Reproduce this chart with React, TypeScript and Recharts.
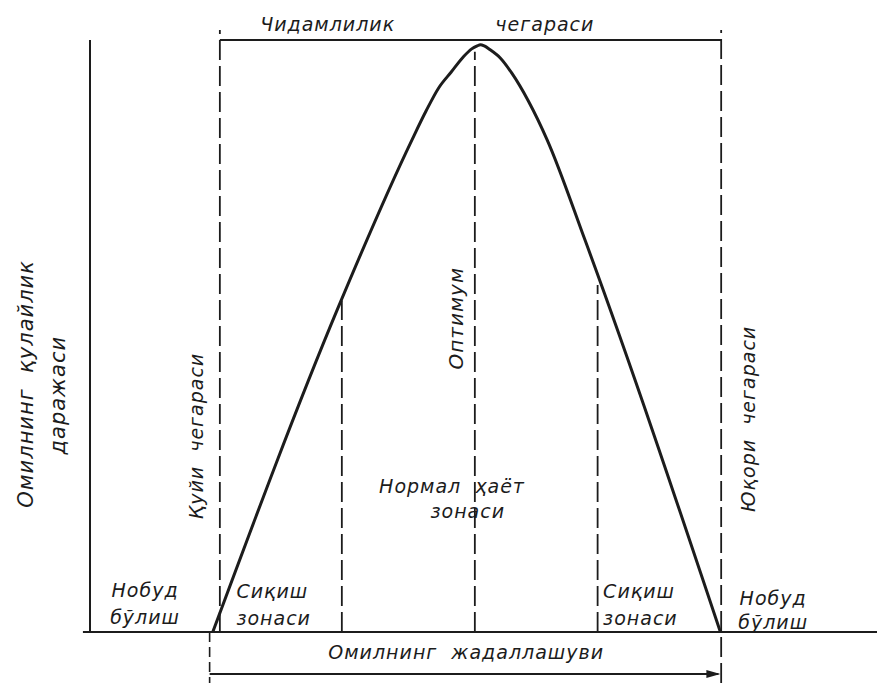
import React from 'react';
import { ComposedChart, Line, XAxis, YAxis, ReferenceLine, ReferenceDot } from 'recharts';

// Factor intensity (x, 0..100) and favourability level (y, 0..100)
const curveX = [15.6, 31.5, 40.9, 42.7, 44.3, 45.9, 47.4, 48.5, 49.2, 49.6, 50.1, 50.8, 52.1, 53.6, 55.7, 58.1, 62.9, 80.1];
const favourY = [0, 54.7, 83.1, 88.0, 91.9, 94.6, 97.1, 98.5, 99.0, 99.2, 99.0, 98.4, 97.0, 94.4, 89.7, 83.1, 66.2, 0];

// Boundaries (x positions) and their heights
const boundaryX = [16.5, 32.0, 48.9, 64.5, 80.2];
const boundaryTop = [101.7, 56.0, 98.0, 58.6, 101.7];
const lowerBelowX = 15.2;
const toleranceY = 100;
const arrowY = -7.1;
const belowBottom = -8.6;

// Text labels
const axisTitleLines = ['Омилнинг  қулайлик', 'даражаси'];
const limitLabels = ['Қуйи  чегараси', 'Оптимум', 'Юқори  чегараси'];
const toleranceLabel = ['Чидамлилик', 'чегараси'];
const deathLabel = ['Нобуд', 'бўлиш'];
const pressureLabel = ['Сиқиш', 'зонаси'];
const normalLabel = ['Нормал  ҳаёт', 'зонаси'];
const intensityLabel = 'Омилнинг  жадаллашуви';

const data = curveX.map((x, i) => ({ x, y: favourY[i] }));

const INK = '#1c1c1c';
const FONT = '"DejaVu Sans", "Open Sans", sans-serif';

type LabelSpec = {
  text: string;
  x: number;
  y: number;
  angle?: number;
  anchor?: 'start' | 'middle' | 'end';
  size?: number;
};

const labels: LabelSpec[] = [
  { text: axisTitleLines[0], x: -8.1, y: 41.9, angle: -90, size: 21 },
  { text: axisTitleLines[1], x: -4.1, y: 40.0, angle: -90, size: 21 },
  { text: limitLabels[0], x: 13.5, y: 33.1, angle: -90 },
  { text: limitLabels[1], x: 46.5, y: 53.0, angle: -90, size: 20 },
  { text: limitLabels[2], x: 83.6, y: 36.0, angle: -90 },
  { text: toleranceLabel[0], x: 30.2, y: 102.7 },
  { text: toleranceLabel[1], x: 57.8, y: 102.7 },
  { text: deathLabel[0], x: 7.0, y: 7.1 },
  { text: deathLabel[1], x: 7.0, y: 2.5 },
  { text: deathLabel[0], x: 86.8, y: 5.7 },
  { text: deathLabel[1], x: 86.8, y: 1.7 },
  { text: pressureLabel[0], x: 18.6, y: 6.9, anchor: 'start' },
  { text: pressureLabel[1], x: 18.6, y: 2.4, anchor: 'start' },
  { text: pressureLabel[0], x: 65.2, y: 6.9, anchor: 'start' },
  { text: pressureLabel[1], x: 65.2, y: 2.4, anchor: 'start' },
  { text: normalLabel[0], x: 46.0, y: 24.7 },
  { text: normalLabel[1], x: 48.0, y: 20.4 },
  { text: intensityLabel, x: 47.8, y: -3.4 },
];

const makeText = (l: LabelSpec) => (p: any) => {
  const cx = p.cx;
  const cy = p.cy;
  return (
    <text
      x={cx}
      y={cy}
      textAnchor={l.anchor || 'middle'}
      dominantBaseline="central"
      transform={l.angle ? `rotate(${l.angle} ${cx} ${cy})` : undefined}
      fill={INK}
      style={{
        fontFamily: FONT,
        fontStyle: 'italic',
        fontSize: l.size || 19,
        letterSpacing: 1,
        whiteSpace: 'pre',
      }}
    >
      {l.text}
    </text>
  );
};

const arrowShape = (p: any) => {
  const { x1, y1, x2, y2 } = p;
  return (
    <g>
      <line x1={x1} y1={y1} x2={x2 - 2} y2={y2} stroke={INK} strokeWidth={2} />
      <polygon points={`${x2},${y2} ${x2 - 14},${y2 - 4} ${x2 - 14},${y2 + 4}`} fill={INK} />
    </g>
  );
};

const dash = '20 6';

export default function App() {
  return (
    <div style={{ position: 'absolute', left: 0, top: 0, width: 877, height: 683, background: '#ffffff' }}>
      <ComposedChart width={877} height={683} data={data} margin={{ top: 40, right: 0, bottom: 31, left: 70 }}>
        <XAxis
          dataKey="x"
          type="number"
          domain={[0, 100]}
          tick={false}
          tickLine={false}
          height={20}
          axisLine={{ stroke: INK, strokeWidth: 2 }}
          allowDataOverflow
        />
        <YAxis
          type="number"
          domain={[0, 100]}
          tick={false}
          tickLine={false}
          width={20}
          axisLine={{ stroke: INK, strokeWidth: 2 }}
          allowDataOverflow
        />
        <ReferenceLine
          segment={[{ x: -0.9, y: 0 }, { x: 0, y: 0 }]}
          stroke={INK}
          strokeWidth={2}
          ifOverflow="visible"
        />
        {/* tolerance limit line */}
        <ReferenceLine
          segment={[{ x: boundaryX[0], y: toleranceY }, { x: boundaryX[4], y: toleranceY }]}
          stroke={INK}
          strokeWidth={1.8}
          ifOverflow="visible"
        />
        {/* boundary dashed lines */}
        {boundaryX.map((bx, i) => (
          <ReferenceLine
            key={'b' + i}
            segment={[{ x: bx, y: i === 4 ? belowBottom : 0 }, { x: bx, y: boundaryTop[i] }]}
            stroke={INK}
            strokeWidth={1.8}
            strokeDasharray={dash}
            ifOverflow="visible"
          />
        ))}
        <ReferenceLine
          segment={[{ x: lowerBelowX, y: 0 }, { x: lowerBelowX, y: belowBottom }]}
          stroke={INK}
          strokeWidth={1.6}
          strokeDasharray="10 5"
          ifOverflow="visible"
        />
        {/* intensity arrow */}
        <ReferenceLine
          segment={[{ x: lowerBelowX, y: arrowY }, { x: curveX[curveX.length - 1], y: arrowY }]}
          stroke={INK}
          ifOverflow="visible"
          shape={arrowShape}
        />
        <Line
          dataKey="y"
          type="monotone"
          stroke={INK}
          strokeWidth={3}
          dot={false}
          activeDot={false}
          isAnimationActive={false}
        />
        {labels.map((l, i) => (
          <ReferenceDot
            key={'l' + i}
            x={l.x}
            y={l.y}
            r={1}
            ifOverflow="visible"
            shape={makeText(l)}
          />
        ))}
      </ComposedChart>
    </div>
  );
}
